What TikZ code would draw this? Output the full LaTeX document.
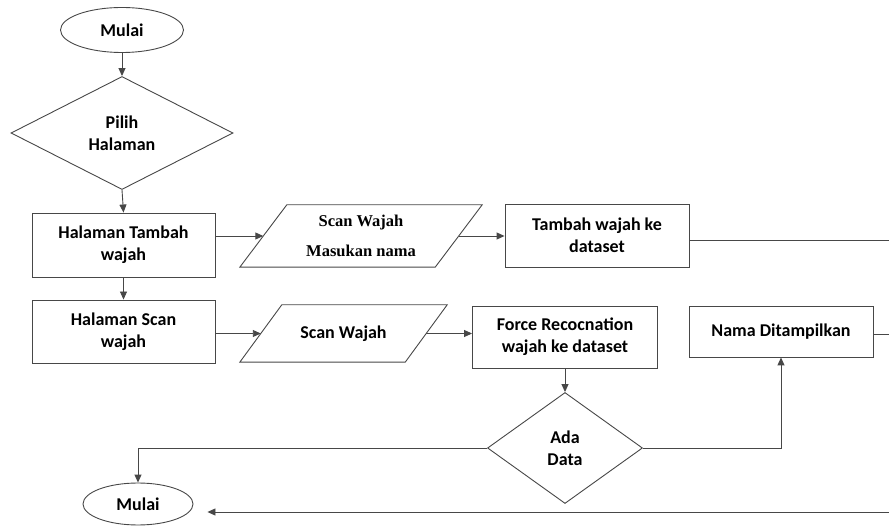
\documentclass[tikz,border=0pt]{standalone}
\usepackage{fontspec}
\setmainfont{Carlito}
\newfontfamily\serifbold{Liberation Serif}
\usetikzlibrary{arrows.meta,shapes.geometric}
\tikzset{
  fc/.style={x=1pt, y=1pt, font=\fontsize{18}{22}\selectfont\bfseries},
  f box/.style={draw=black!72, line width=0.9pt, align=center, inner sep=0pt},
  f term/.style={draw=black!72, line width=0.9pt, ellipse, inner sep=0pt},
  f dec/.style={draw=black!72, line width=0.9pt, diamond, align=center, inner sep=0pt},
  f io/.style={align=center, inner sep=0pt},
  f serif/.style={font=\serifbold\bfseries\fontsize{16.5}{30}\selectfont},
  f arr/.style={-{Triangle[length=8pt,width=7pt]}, draw=black!72, line width=0.9pt},
  f line/.style={draw=black!72, line width=0.9pt},
}
% slanted input box round a node: name, half slant
\newcommand{\ioshape}[2]{%
  \draw[f line] ([xshift=-#2]#1.south west) -- ([xshift=#2]#1.north west)
    -- ([xshift=#2]#1.north east) -- ([xshift=-#2]#1.south east) -- cycle;}

\begin{document}
\begin{tikzpicture}[fc]
\useasboundingbox (0,0) rectangle (889,-526);
% ---- start and choice ----
\node[f term, minimum width=123pt, minimum height=45pt] (m1) at (122,-30) {Mulai};
\node[f dec, minimum width=222pt, minimum height=113pt] (d1) at (122,-133) {Pilih\\Halaman};
\node[f box, minimum width=183pt, minimum height=64pt] (b1) at (123.5,-245) {Halaman Tambah\\wajah};
\node[f box, minimum width=183pt, minimum height=63pt] (b2) at (123.5,-331.5) {Halaman Scan\\wajah};
\draw[f arr] (m1.south) -- (d1.north);
\draw[f arr] (d1.south) -- (b1.north);
\draw[f arr] (b1.south) -- (b2.north);
% ---- add face ----
\node[f io, f serif, minimum width=195pt, minimum height=62pt] (p1) at (361,-236) {Scan Wajah\\Masukan nama};
\ioshape{p1}{23.5pt}
\node[f box, minimum width=184pt, minimum height=63pt] (t1) at (597,-235.5) {Tambah wajah ke\\dataset};
\coordinate (r1) at (889,-240);
\draw[f arr] (p1.west -| b1.east) -- (p1.west);
\draw[f arr] (p1.east) -- (p1.east -| t1.west);
\draw[f line] (t1.east |- r1) -- (r1);
% ---- scan face ----
\node[f io, minimum width=165pt, minimum height=57pt] (p2) at (343.5,-333.5) {Scan Wajah};
\ioshape{p2}{21pt}
\node[f box, minimum width=185pt, minimum height=62pt] (fr) at (565,-337) {Force Recocnation\\wajah ke dataset};
\node[f box, minimum width=184pt, minimum height=51pt] (nm) at (781,-331.5) {Nama Ditampilkan};
\node[f dec, minimum width=155pt, minimum height=111pt] (d2) at (565,-448) {Ada\\Data};
\node[f term, minimum width=110pt, minimum height=42pt] (m2) at (138,-504) {Mulai};
\coordinate (r2) at (889,-334);
\coordinate (r3) at (889,-512);
\draw[f arr] (p2.west -| b2.east) -- (p2.west);
\draw[f arr] (p2.east) -- (p2.east -| fr.west);
\draw[f arr] (fr.south) -- (d2.north);
\draw[f arr] (d2.east) -| (nm.south);
\draw[f arr] (d2.west) -| (m2.north);
\draw[f line] (nm.east |- r2) -- (r2);
\draw[f arr, shorten >=14pt] (r3) -- (r3 -| m2.east);
\end{tikzpicture}
\end{document}
